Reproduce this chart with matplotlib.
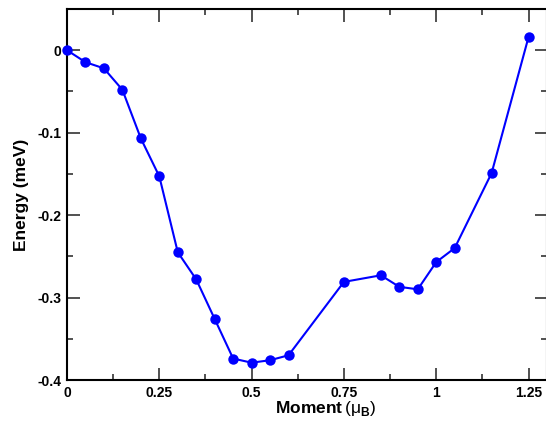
import numpy as np
import matplotlib
matplotlib.use("Agg")
import matplotlib.pyplot as plt
from matplotlib.ticker import MultipleLocator

plt.rcParams['font.family'] = ['Liberation Sans', 'DejaVu Sans']
plt.rcParams['mathtext.fontset'] = 'custom'
plt.rcParams['mathtext.rm'] = 'Liberation Sans'
plt.rcParams['mathtext.bf'] = 'Liberation Sans:bold'

# Moment (mu_B) vs energy (meV)
moment = [0.0, 0.05, 0.10, 0.15, 0.20, 0.25, 0.30, 0.35, 0.40, 0.45, 0.50,
          0.55, 0.60, 0.75, 0.85, 0.90, 0.95, 1.00, 1.05, 1.15, 1.25]
energy = [0.000, -0.0145, -0.022, -0.048, -0.107, -0.153, -0.245, -0.278,
          -0.326, -0.374, -0.379, -0.376, -0.370, -0.281, -0.273, -0.287,
          -0.290, -0.257, -0.240, -0.149, 0.016]
xticks = [0, 0.25, 0.5, 0.75, 1, 1.25]
xticklabels = ['0', '0.25', '0.5', '0.75', '1', '1.25']
yticks = [0, -0.1, -0.2, -0.3, -0.4]
yticklabels = ['0', '-0.1', '-0.2', '-0.3', '-0.4']

fig = plt.figure(figsize=(5.46, 4.25), dpi=100)
ax = fig.add_axes([67 / 546, 1 - 380 / 425, 480 / 546, 371 / 425])

ax.plot(moment, energy, '-', color='#0000ff', linewidth=1.5,
        marker='o', markersize=7.5, markeredgewidth=0, clip_on=False, zorder=3)

ax.set_xlim(0, 1.3)
ax.set_ylim(-0.4, 0.05)
ax.set_xticks(xticks)
ax.set_xticklabels(xticklabels)
ax.set_yticks(yticks)
ax.set_yticklabels(yticklabels)
ax.xaxis.set_minor_locator(MultipleLocator(0.125))
ax.yaxis.set_minor_locator(MultipleLocator(0.05))

ax.tick_params(which='both', direction='in', top=True, right=True,
               width=1.2, color='#333333')
ax.tick_params(which='major', length=9, labelsize=10, pad=4)
ax.tick_params(which='minor', length=4.5)
for lab in ax.get_xticklabels() + ax.get_yticklabels():
    lab.set_fontweight('bold')
for sp in ax.spines.values():
    sp.set_linewidth(1.5)

ax.set_xlabel(r'Moment$\,(\mathrm{\mu}_\mathbf{B})$', fontsize=12.5,
              fontweight='bold')
ax.xaxis.set_label_coords(0.538, -0.052)
ax.set_ylabel('Energy (meV)', fontsize=12.5, fontweight='bold', labelpad=6)

fig.savefig('out.png', dpi=100)
